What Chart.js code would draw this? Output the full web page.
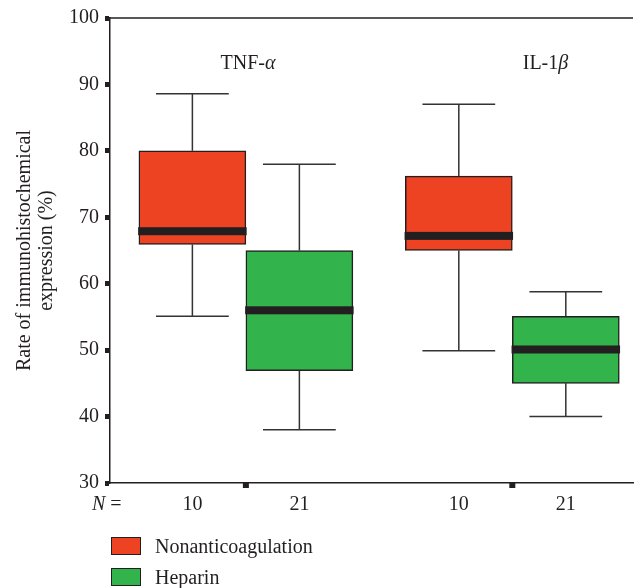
<!DOCTYPE html>
<html><head><meta charset="utf-8">
<script src="https://cdn.jsdelivr.net/npm/chart.js@4.4.0/dist/chart.umd.min.js"></script>
<style>
html,body{margin:0;padding:0;background:#fff;}
#wrap{position:relative;width:634px;height:588px;overflow:hidden;}
canvas{position:absolute;left:0;top:0;}
.item{position:absolute;left:111px;height:18px;display:flex;align-items:center;font-family:"Liberation Serif",serif;font-size:20px;color:#231f20;white-space:nowrap;}
.sw{width:28px;height:16px;border:1px solid #231f20;margin-right:14px;}
</style></head>
<body><div id="wrap"><canvas id="c" width="634" height="588"></canvas>
<div class="item" style="top:537px"><span class="sw" style="background:#EE4323"></span>Nonanticoagulation</div>
<div class="item" style="top:568px"><span class="sw" style="background:#32B34C"></span>Heparin</div>
</div>
<script>
// ---- data ----
const categories = ['TNF-α', 'IL-1β'];
const seriesNames = ['Nonanticoagulation', 'Heparin'];
const nonMin = [55.1, 49.9];
const nonQ1  = [65.9, 65.0];
const nonMed = [67.9, 67.2];
const nonQ3  = [80.0, 76.2];
const nonMax = [88.6, 87.0];
const hepMin = [38.0, 40.0];
const hepQ1  = [46.9, 45.0];
const hepMed = [56.0, 50.1];
const hepQ3  = [65.0, 55.1];
const hepMax = [78.0, 58.8];
const nonN = [10, 10];
const hepN = [21, 21];
const yTicks = [30, 40, 50, 60, 70, 80, 90, 100];

// ---- layout (x units: one box width) ----
const GROUP_STEP = 2.49, X_MIN = -1.27, X_MAX = 3.618, CAP_HALF = 0.34, BOX_HALF = 0.5;
const groupX = i => i * GROUP_STEP;
const LABEL_POS = [{dx: 0.02, y: 93.1}, {dx: 0.31, y: 93.1}];
const INK = '#231f20';
const FONT = '"Liberation Serif", "Times New Roman", serif';

const series = [
  {name: seriesNames[0], off: -0.5, min: nonMin, q1: nonQ1, med: nonMed, q3: nonQ3, max: nonMax, n: nonN, color: '#EE4323'},
  {name: seriesNames[1], off: 0.5, min: hepMin, q1: hepQ1, med: hepMed, q3: hepQ3, max: hepMax, n: hepN, color: '#32B34C'}
];

const xTicks = [];
categories.forEach((c, i) => series.forEach(s => xTicks.push({value: groupX(i) + s.off, label: String(s.n[i])})));
xTicks.sort((a, b) => a.value - b.value);

const datasets = series.map(s => ({
  label: s.name,
  data: categories.map((c, i) => ({x: groupX(i) + s.off, y: [s.q1[i], s.q3[i]]})),
  backgroundColor: s.color,
  borderColor: INK,
  borderWidth: 1.5,
  borderSkipped: false,
  barPercentage: 1,
  categoryPercentage: 1,
  grouped: false
}));

const boxPlugin = {
  id: 'boxExtras',
  beforeDatasetsDraw(chart) {
    const {ctx, scales: {x, y}} = chart;
    ctx.save();
    ctx.strokeStyle = '#333';
    ctx.lineWidth = 1.5;
    const cap = x.getPixelForValue(CAP_HALF) - x.getPixelForValue(0);
    series.forEach(s => categories.forEach((c, i) => {
      const cx = x.getPixelForValue(groupX(i) + s.off);
      const yMax = y.getPixelForValue(s.max[i]), yQ3 = y.getPixelForValue(s.q3[i]);
      const yMin = y.getPixelForValue(s.min[i]), yQ1 = y.getPixelForValue(s.q1[i]);
      ctx.beginPath();
      ctx.moveTo(cx, yMax); ctx.lineTo(cx, yQ3);
      ctx.moveTo(cx, yQ1); ctx.lineTo(cx, yMin);
      ctx.moveTo(cx - cap, yMax); ctx.lineTo(cx + cap, yMax);
      ctx.moveTo(cx - cap, yMin); ctx.lineTo(cx + cap, yMin);
      ctx.stroke();
    }));
    ctx.restore();
  },
  afterDatasetsDraw(chart) {
    const {ctx, chartArea, scales: {x, y}} = chart;
    ctx.save();
    // medians
    ctx.fillStyle = INK;
    const half = x.getPixelForValue(BOX_HALF) - x.getPixelForValue(0);
    series.forEach(s => categories.forEach((c, i) => {
      const cx = x.getPixelForValue(groupX(i) + s.off);
      const ym = y.getPixelForValue(s.med[i]);
      ctx.fillRect(cx - half - 0.75, ym - 4, 2 * half + 1.5, 8);
    }));
    // top frame line
    ctx.strokeStyle = INK;
    ctx.lineWidth = 1.5;
    ctx.beginPath();
    ctx.moveTo(chartArea.left, chartArea.top);
    ctx.lineTo(chartArea.right, chartArea.top);
    ctx.stroke();
    // group boundary tick marks
    categories.forEach((c, i) => {
      const px = x.getPixelForValue(groupX(i));
      ctx.fillRect(px - 3, chartArea.bottom, 6, 5);
    });
    // group labels
    ctx.fillStyle = INK;
    ctx.textBaseline = 'middle';
    categories.forEach((c, i) => {
      const main = c.slice(0, -1), greek = c.slice(-1);
      ctx.font = '20px ' + FONT;
      const w1 = ctx.measureText(main).width;
      ctx.font = 'italic 20px ' + FONT;
      const w2 = ctx.measureText(greek).width;
      const cx = x.getPixelForValue(groupX(i) + LABEL_POS[i].dx);
      const cy = y.getPixelForValue(LABEL_POS[i].y);
      const left = cx - (w1 + w2) / 2;
      ctx.font = '20px ' + FONT;
      ctx.textAlign = 'left';
      ctx.fillText(main, left, cy);
      ctx.font = 'italic 20px ' + FONT;
      ctx.fillText(greek, left + w1, cy);
    });
    // N = label
    const ny = chartArea.bottom + 22;
    ctx.font = 'italic 20px ' + FONT;
    ctx.textAlign = 'left';
    ctx.fillText('N', 92, ny);
    const wn = ctx.measureText('N').width;
    ctx.font = '20px ' + FONT;
    ctx.fillText(' =', 92 + wn, ny);
    ctx.restore();
  }
};

new Chart(document.getElementById('c'), {
  type: 'bar',
  data: {datasets},
  options: {
    responsive: false,
    animation: false,
    devicePixelRatio: 1,
    layout: {padding: {top: 16, right: 1, left: 0, bottom: 0}},
    plugins: {legend: {display: false}, tooltip: {enabled: false}},
    scales: {
      x: {
        type: 'linear',
        offset: false,
        min: X_MIN, max: X_MAX,
        afterBuildTicks: sc => { sc.ticks = xTicks.map(t => ({value: t.value})); },
        afterFit: sc => { sc.height = 105; },
        ticks: {
          autoSkip: false, maxRotation: 0, padding: 5, color: INK,
          font: {family: FONT, size: 20},
          callback: (v, idx) => xTicks[idx] ? xTicks[idx].label : ''
        },
        grid: {offset: false, drawOnChartArea: false, drawTicks: true, tickLength: 5, tickColor: 'rgba(0,0,0,0)'},
        border: {display: true, color: INK, width: 1.5}
      },
      y: {
        type: 'linear',
        min: 30, max: 100,
        afterBuildTicks: sc => { sc.ticks = yTicks.map(v => ({value: v})); },
        afterFit: sc => { sc.width = 110; },
        ticks: {padding: 6, color: INK, font: {family: FONT, size: 20}},
        grid: {drawOnChartArea: false, drawTicks: true, tickLength: 5, tickWidth: 5, tickColor: INK},
        border: {display: true, color: INK, width: 1.5},
        title: {
          display: true,
          text: ['Rate of immunohistochemical', 'expression (%)'],
          color: INK,
          font: {family: FONT, size: 20, lineHeight: 1.1},
          padding: {top: 14, bottom: 0}
        }
      }
    }
  },
  plugins: [boxPlugin]
});
</script>
</body></html>
